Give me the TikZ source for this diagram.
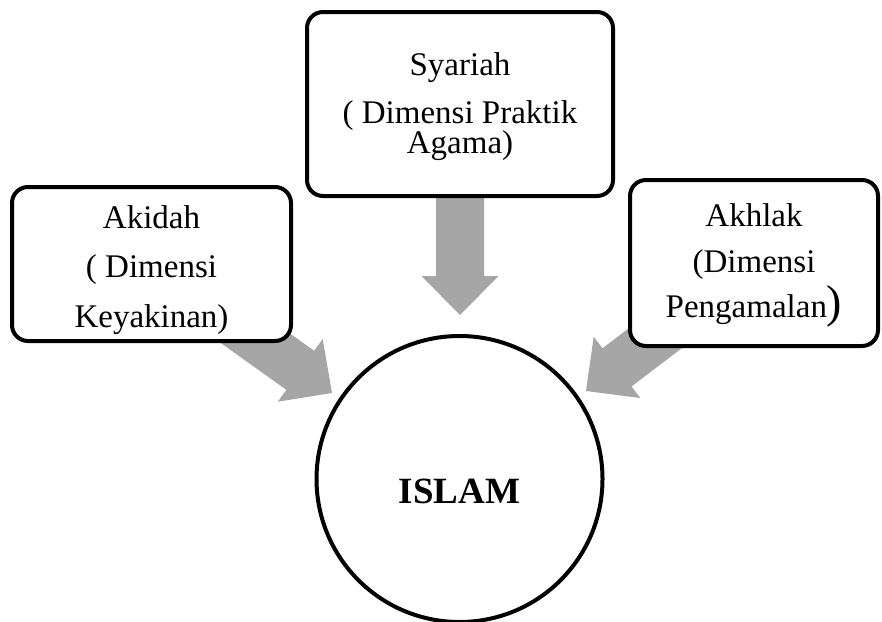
\documentclass[tikz,border=0pt]{standalone}
\usepackage{fontspec}
\setmainfont{Liberation Serif}
\usetikzlibrary{calc}
\pgfdeclarelayer{bg}
\pgfsetlayers{bg,main}
\definecolor{arrowgray}{RGB}{166,166,166}
\newcommand\blockarrow[2]{%
  \coordinate (ba-base) at ($(#2)!39pt!(#1.center)$);
  \fill[arrowfill] ($(#1.center)!24pt!90:(#2)$) -- ($(ba-base)!24pt!90:(#2)$)
    -- ($(ba-base)!38.5pt!90:(#2)$) -- (#2) -- ($(ba-base)!38.5pt!-90:(#2)$)
    -- ($(ba-base)!24pt!-90:(#2)$) -- ($(#1.center)!24pt!-90:(#2)$) -- cycle;}
\begin{document}
\begin{tikzpicture}[x=1pt,y=-1pt,
  box/.style={draw, line width=4pt, rounded corners=16pt, fill=white,
    align=center, inner sep=0pt, font=\fontsize{33}{49.5}\selectfont},
  arrowfill/.style={fill=arrowgray},
  core/.style={circle, draw, line width=4pt, fill=white, minimum size=286pt,
    inner sep=0pt, font=\bfseries\fontsize{37}{44}\selectfont,
    text height=48pt, text depth=0pt}]
\useasboundingbox (0,0) rectangle (882,621);

\node[box, minimum width=279pt, minimum height=154pt] (akidah) at (151.5,264)
  {\rule{0pt}{35pt}Akidah\\( Dimensi\\Keyakinan)\rule[-8pt]{0pt}{8pt}};
\node[box, minimum width=306pt, minimum height=184pt,
  font=\fontsize{33}{30}\selectfont] (syariah) at (460,104)
  {\rule{0pt}{29pt}Syariah\\[17pt]( Dimensi Praktik\\Agama)\rule[-8pt]{0pt}{8pt}};
\node[box, minimum width=248pt, minimum height=166pt,
  font=\fontsize{33}{45.5}\selectfont] (akhlak) at (754,263)
  {\rule{0pt}{28pt}Akhlak\\(Dimensi\\Pengamalan{\fontsize{46}{46}\selectfont)}\rule[-9pt]{0pt}{9pt}};
\node[core] (islam) at (459.5,479) {ISLAM};

\coordinate (tipL) at (332,393);
\coordinate (tipT) at (460,315);
\coordinate (tipR) at (586,391);

\begin{pgfonlayer}{bg}
  \blockarrow{akidah}{tipL}
  \blockarrow{syariah}{tipT}
  \blockarrow{akhlak}{tipR}
\end{pgfonlayer}
\end{tikzpicture}
\end{document}
